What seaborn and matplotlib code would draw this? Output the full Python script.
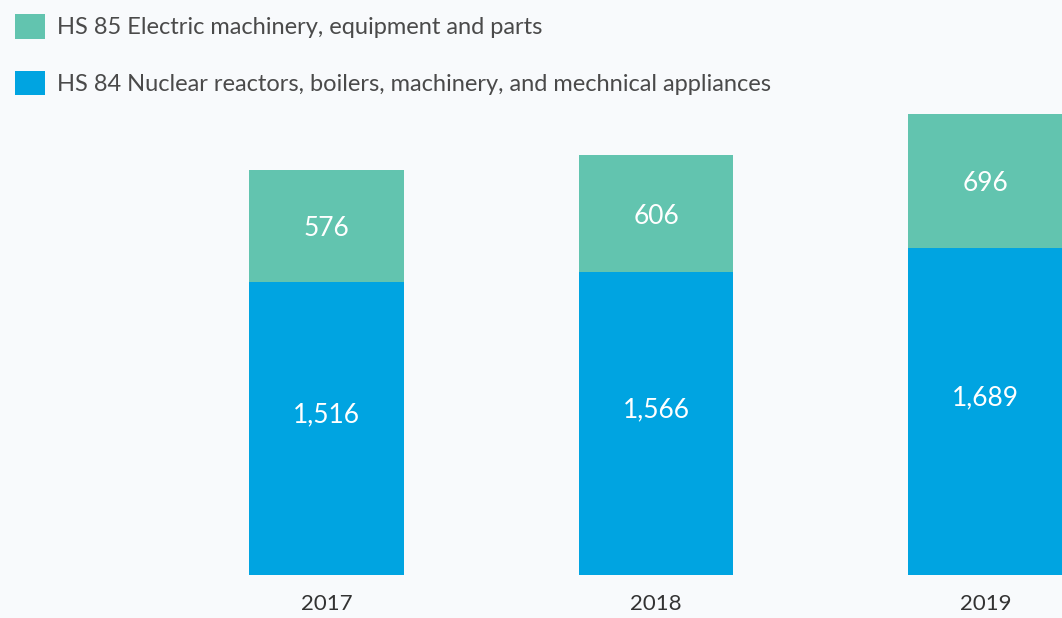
import matplotlib
matplotlib.use("Agg")
import matplotlib.pyplot as plt
from matplotlib.patches import Patch
import seaborn as sns
import pandas as pd

years = ["2017", "2018", "2019"]
hs84 = [1516, 1566, 1689]
hs85 = [576, 606, 696]
label84 = "HS 84 Nuclear reactors, boilers, machinery, and mechnical appliances"
label85 = "HS 85 Electric machinery, equipment and parts"

C84 = "#00A4E1"
C85 = "#62C4AF"
BG = "#F8FAFC"

sns.set_theme(style="white")
plt.rcParams['font.family'] = ['Lato', 'DejaVu Sans']

df = pd.DataFrame({"year": years, "hs84": hs84, "hs85": hs85})

fig = plt.figure(figsize=(10.62, 6.18), dpi=100, facecolor=BG)
ax = fig.add_axes([0, 43 / 618, 1, 575 / 618])
ax.set_facecolor(BG)

sns.barplot(data=df, x="year", y="hs84", color=C84, width=0.47, ax=ax,
            saturation=1, linewidth=0)
sns.barplot(data=df, x="year", y="hs85", color=C85, width=0.47, ax=ax,
            saturation=1, linewidth=0, bottom=df["hs84"].values)

for i, (b, g) in enumerate(zip(hs84, hs85)):
    ax.annotate(f"{b:,}", (i, b / 2), xytext=(0, 10), textcoords="offset points",
                ha="center", va="center", color="white", fontsize=19)
    ax.annotate(f"{g:,}", (i, b + g / 2), xytext=(0, -2), textcoords="offset points",
                ha="center", va="center", color="white", fontsize=19)

ax.set_xlim(-0.991, 2.232)
ax.set_ylim(0, 2972)
ax.set_xlabel("")
ax.set_ylabel("")
ax.set_yticks([])
ax.tick_params(axis="x", length=0, pad=14, labelsize=16, labelcolor="#333333")
for s in ax.spines.values():
    s.set_visible(False)

handles = [Patch(facecolor=C85, edgecolor="none", label=label85),
           Patch(facecolor=C84, edgecolor="none", label=label84)]
fig.legend(handles=handles, loc="upper left", bbox_to_anchor=(0.003, 0.997),
           frameon=False, fontsize=17, handlelength=1.25, handleheight=1.25,
           handletextpad=0.55, labelspacing=1.35, labelcolor="#4a4a4a",
           borderaxespad=0, borderpad=0.5)

fig.savefig("out.png", dpi=100, facecolor=BG)
